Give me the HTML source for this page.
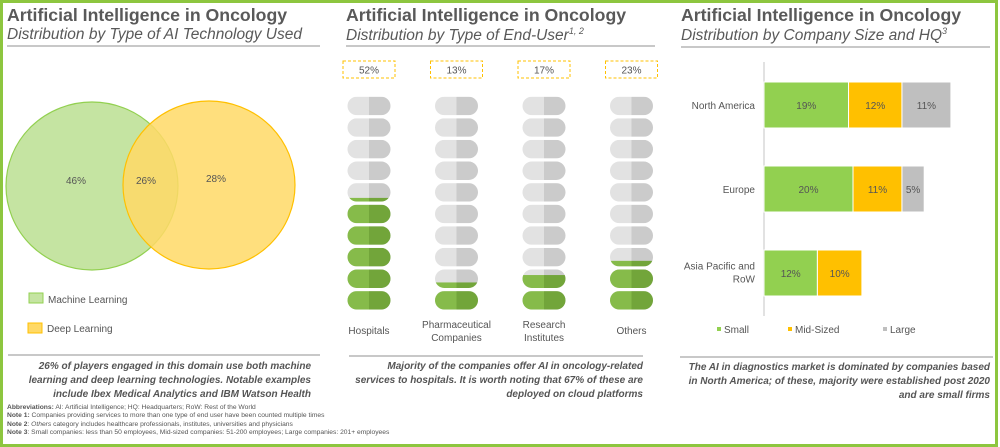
<!DOCTYPE html>
<html><head><meta charset="utf-8"><style>
body{margin:0;width:1000px;height:447px;background:#fff;font-family:"Liberation Sans",sans-serif;overflow:hidden;position:relative}
.frame{position:absolute;left:0;top:0;width:992px;height:441px;border:3px solid #8dc63f;border-right-width:3px}
.t{position:absolute;color:#595959;font-weight:bold;font-size:17.7px;white-space:nowrap}
.s{position:absolute;color:#595959;font-style:italic;font-size:15.5px;white-space:nowrap}
.hl{position:absolute;height:2px;background:#c8c8c8}
.note{position:absolute;color:#555;font-style:italic;font-weight:bold;font-size:10px;line-height:14px;text-align:right}
.fn{position:absolute;left:7px;top:404px;font-size:6.7px;line-height:8.4px;color:#555;white-space:nowrap}
</style></head><body>
<div class="frame"></div>

<div class="t" style="left:7px;top:5px">Artificial Intelligence in Oncology</div>
<div class="s" style="left:7px;top:26px">Distribution by Type of AI Technology Used</div>
<div class="hl" style="left:7px;top:45px;width:313px"></div>

<div class="t" style="left:346px;top:5px">Artificial Intelligence in Oncology</div>
<div class="s" style="left:346px;top:26px">Distribution by Type of End-User<sup style="font-size:9px">1, 2</sup></div>
<div class="hl" style="left:346px;top:45px;width:309px"></div>

<div class="t" style="left:681px;top:5px">Artificial Intelligence in Oncology</div>
<div class="s" style="left:681px;top:26px">Distribution by Company Size and HQ<sup style="font-size:9px">3</sup></div>
<div class="hl" style="left:681px;top:46px;width:309px"></div>

<svg width="1000" height="447" style="position:absolute;left:0;top:0">
<g>
<ellipse cx="92" cy="186" rx="86" ry="84" fill="#c5e4a2" stroke="#92d050" stroke-width="1.2"/>
<ellipse cx="209" cy="185" rx="86" ry="84" fill="#ffd966" fill-opacity="0.85" stroke="#ffc000" stroke-width="1.2"/>
<text x="76" y="184" font-size="10" fill="#555" text-anchor="middle">46%</text>
<text x="146" y="184" font-size="10" fill="#555" text-anchor="middle">26%</text>
<text x="216" y="182" font-size="10" fill="#555" text-anchor="middle">28%</text>
<rect x="29" y="293" width="14" height="10" fill="#c5e4a2" stroke="#92d050"/>
<text x="48" y="303" font-size="10" fill="#555">Machine Learning</text>
<rect x="28" y="323" width="14" height="10" fill="#ffd966" stroke="#ffc000"/>
<text x="47" y="332" font-size="10" fill="#555">Deep Learning</text>
</g>
<g id="pills"></g>
<g id="bars"></g>
</svg>

<div class="hl" style="left:8px;top:354px;width:312px"></div>
<div class="note" style="left:8px;top:360px;width:303px">26% of players engaged in this domain use both machine learning and deep learning technologies. Notable examples include Ibex Medical Analytics and IBM Watson Health</div>
<div class="hl" style="left:349px;top:355px;width:294px"></div>
<div class="note" style="left:349px;top:360px;width:294px">Majority of the companies offer AI in oncology-related services to hospitals. It is worth noting that 67% of these are deployed on cloud platforms</div>
<div class="hl" style="left:680px;top:356px;width:313px"></div>
<div class="note" style="left:680px;top:361px;width:310px">The AI in diagnostics market is dominated by companies based in North America; of these, majority were established post 2020 and are small firms</div>

<div class="fn">
<b>Abbreviations:</b> AI: Artificial Intelligence; HQ: Headquarters; RoW: Rest of the World<br>
<b>Note 1:</b> Companies providing services to more than one type of end user have been counted multiple times<br>
<b>Note 2</b>: <i>Others</i> category includes healthcare professionals, institutes, universities and physicians<br>
<b>Note 3</b>: Small companies: less than 50 employees, Mid-sized companies: 51-200 employees; Large companies: 201+ employees
</div>

<script>
const endUsers=["Hospitals","Pharmaceutical|Companies","Research|Institutes","Others"];
const endUserShares=[52,13,17,23];
const regions=["North America","Europe","Asia Pacific and|RoW"];
const smallVals=[19,20,12];
const midVals=[12,11,10];
const largeVals=[11,5,0];
const sizeNames=["Small","Mid-Sized","Large"];

const NS="http://www.w3.org/2000/svg";
function mk(tag,attrs,parent){const e=document.createElementNS(NS,tag);for(const k in attrs)e.setAttribute(k,attrs[k]);parent.appendChild(e);return e;}
function txt(x,y,s,size,anchor,parent){const e=mk("text",{x:x,y:y,"font-size":size,fill:"#555","text-anchor":anchor},parent);e.textContent=s;return e;}

// pill chart
const pg=document.getElementById("pills");
const colX=i=>369+i*87.5;
const pillTop=96.7,pitch=21.6,pw=43,ph=18.5,nP=10;
let clipId=0;
endUsers.forEach((name,i)=>{
  const cx=colX(i);
  const box=mk("rect",{x:cx-26,y:61,width:52,height:17,fill:"none",stroke:"#ffc000","stroke-dasharray":"3,2","stroke-width":1},pg);
  
  
  const bt=txt(cx,73.5,endUserShares[i]+"%",10,"middle",pg);
  
  
  for(let p=0;p<nP;p++){
    const y=pillTop+(nP-1-p)*pitch;
    const fill=Math.max(0,Math.min(1,endUserShares[i]/10-p));
    const g=mk("g",{},pg);
    
    
    const id="c"+(clipId++);
    const cp=mk("clipPath",{id:id},g);
    mk("rect",{x:cx-pw/2,y:y,width:pw,height:ph,rx:ph/2},cp);
    const gg=mk("g",{"clip-path":"url(#"+id+")"},g);
    mk("rect",{x:cx-pw/2,y:y,width:pw/2,height:ph,fill:"#e2e2e2"},gg);
    mk("rect",{x:cx,y:y,width:pw/2,height:ph,fill:"#cbcbcb"},gg);
    if(fill>0){
      const fh=ph*fill;
      mk("rect",{x:cx-pw/2,y:y+ph-fh,width:pw/2,height:fh,fill:"#86bb4a"},gg);
      mk("rect",{x:cx,y:y+ph-fh,width:pw/2,height:fh,fill:"#72a53a"},gg);
    }
  }
  const parts=name.split("|");
  parts.forEach((s,k)=>{
    const t=txt(cx,(parts.length>1?328:334)+k*13,s,10,"middle",pg);
    
    
  });
});

// bar chart
const bg=document.getElementById("bars");
const x0=764,pxPer=4.45,barH=46;
const rowY=i=>82+i*84;
const ax=mk("line",{x1:x0,y1:62,x2:x0,y2:316,stroke:"#d9d9d9","stroke-width":1.5},bg);


const colors=["#92d050","#ffc000","#bfbfbf"];
regions.forEach((r,i)=>{
  const y=rowY(i);
  let x=x0;
  [smallVals[i],midVals[i],largeVals[i]].forEach((v,k)=>{
    if(v<=0)return;
    const w=v*pxPer;
    const b=mk("rect",{x:x,y:y,width:w,height:barH,fill:colors[k],stroke:"#fff","stroke-width":1},bg);
    
    
    const t=txt(x+w/2,y+barH/2+4,v+"%",10,"middle",bg);
    
    
    x+=w;
  });
  const parts=r.split("|");
  parts.forEach((s,k)=>{
    const t=txt(755,y+barH/2+4+(parts.length>1?(k-0.5)*13-1:0),s,10,"end",bg);
    
    
  });
});
const legX=[717,788,883];
sizeNames.forEach((n,k)=>{
  const r=mk("rect",{x:legX[k],y:327,width:4,height:4,fill:colors[k]},bg);
  
  
  const t=txt(legX[k]+7,333,n,10,"start",bg);
  
  
});
</script>
</body></html>
